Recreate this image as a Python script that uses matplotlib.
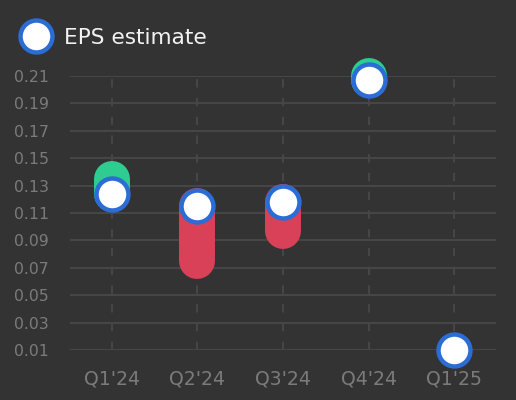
import numpy as np
import matplotlib
matplotlib.use("Agg")
import matplotlib.pyplot as plt

# EPS estimate vs actual per quarter
quarters = ["Q1'24", "Q2'24", "Q3'24", "Q4'24", "Q1'25"]
eps_estimate = [0.124, 0.115, 0.118, 0.207, 0.010]
eps_actual = [0.135, 0.075, 0.097, 0.210, np.nan]
y_ticks = [0.01, 0.03, 0.05, 0.07, 0.09, 0.11, 0.13, 0.15, 0.17, 0.19, 0.21]

BG = '#333333'
GRID = '#464646'
TICK = '#7b7b7b'
BLUE = '#2c6cd5'
GREEN = '#2ecc91'
RED = '#d84157'

fig = plt.figure(figsize=(5.16, 4.0), dpi=100, facecolor=BG)
ax = fig.add_axes([70 / 516, 50 / 400, 426 / 516, 274 / 400])
ax.set_facecolor(BG)

x = np.arange(len(quarters))
ax.set_xlim(-0.491, 4.491)
ax.set_ylim(0.01, 0.21)

# grid
for yv in y_ticks:
    ax.axhline(yv, color=GRID, lw=1.5, zorder=0)
ax.vlines(x, 0.01, 0.21, color=GRID, lw=1.5, linestyles=(0, (4, 5)), zorder=0)

# surprise capsules
for xi, est, act in zip(x, eps_estimate, eps_actual):
    if np.isnan(act):
        continue
    col = GREEN if act >= est else RED
    ax.plot([xi, xi], [est, act], color=col, lw=25.9, solid_capstyle='round',
            clip_on=False, zorder=3)

ax.plot(x, eps_estimate, 'o', ls='none', ms=23, mfc='white', mec=BLUE, mew=3.2,
        clip_on=False, zorder=4, label='EPS estimate')

ax.set_xticks(x)
ax.set_xticklabels(quarters, fontsize=13.6, color=TICK)
ax.set_yticks(y_ticks)
ax.set_yticklabels([f'{v:.2f}' for v in y_ticks], fontsize=11.3, color=TICK)
ax.tick_params(axis='x', length=0, pad=14)
ax.tick_params(axis='y', length=0, pad=15)
for s in ax.spines.values():
    s.set_visible(False)

leg = ax.legend(loc='upper left', bbox_to_anchor=(25.6 / 516, 1 - 28 / 400),
                bbox_transform=fig.transFigure, frameon=False, fontsize=15.6,
                borderpad=0, borderaxespad=0, handlelength=1.0, handletextpad=0.75)
for t in leg.get_texts():
    t.set_color('#f2f2f2')

fig.savefig('out.png', dpi=100, facecolor=BG)
